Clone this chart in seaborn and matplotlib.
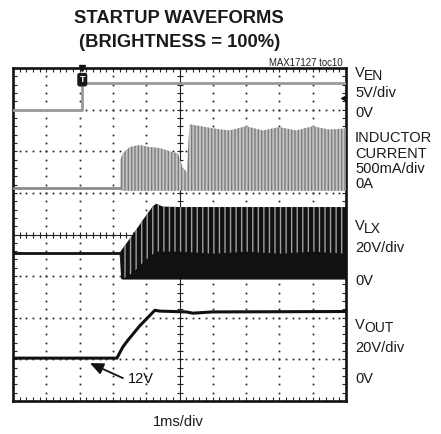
import numpy as np
import pandas as pd
import matplotlib
matplotlib.use("Agg")
import matplotlib.pyplot as plt
from matplotlib import font_manager
import seaborn as sns

#---------Trace data (x in ms / divisions, y in screen divisions 0..8)-----------
# V_EN
t_en = [0.0, 2.08, 2.08, 10.0]
v_en = [6.98, 6.98, 7.64, 7.64]

# inductor current: flat part, then switching envelope
t_il = [0.0, 3.22]
v_il = [5.12, 5.12]
t_il_band = [3.22, 3.3, 3.5, 3.8, 4.1, 4.4, 4.7, 4.95, 5.1, 5.22, 5.3, 5.5, 6.0, 6.5, 7.0, 7.5, 8.0, 8.5, 9.0, 9.5, 10.0]
il_hi = [5.8, 5.95, 6.1, 6.15, 6.1, 6.08, 6.0, 5.95, 5.6, 5.5, 6.65, 6.62, 6.55, 6.5, 6.6, 6.5, 6.58, 6.5, 6.6, 6.52, 6.55]
il_lo = [5.08, 5.05, 5.05, 5.05, 5.05, 5.05, 5.05, 5.05, 5.05, 5.05, 5.05, 5.05, 5.05, 5.05, 5.05, 5.05, 5.05, 5.05, 5.05, 5.05, 5.05]

# V_LX: flat part, then switching envelope
t_lx = [0.0, 3.2]
v_lx = [3.55, 3.55]
t_lx_band = [3.2, 3.25, 3.6, 3.9, 4.2, 4.3, 4.5, 5.0, 6.0, 7.0, 8.0, 9.0, 10.0]
lx_hi = [3.55, 3.62, 4.0, 4.35, 4.68, 4.74, 4.67, 4.66, 4.66, 4.66, 4.66, 4.66, 4.66]
lx_lo = [3.55, 2.93, 2.93, 2.93, 2.93, 2.93, 2.93, 2.93, 2.93, 2.93, 2.93, 2.93, 2.93]
lx_core = [3.55, 2.93, 3.1, 3.35, 3.55, 3.6, 3.6, 3.6, 3.55, 3.6, 3.55, 3.6, 3.55]

# V_OUT
t_out = [0.0, 3.12, 3.3, 3.45, 3.8, 4.26, 4.4, 5.2, 5.4, 6.0, 10.0]
v_out = [1.03, 1.03, 1.3, 1.46, 1.8, 2.18, 2.16, 2.14, 2.11, 2.14, 2.15]

# right-hand channel labels: (text, baseline pixel y, subscript)
labels = [("V", 77, "EN"), ("5V/div", 97, ""), ("0V", 117, ""),
          ("INDUCTOR", 142, ""), ("CURRENT", 158, ""), ("500mA/div", 173, ""), ("0A", 188, ""),
          ("V", 230, "LX"), ("20V/div", 252, ""), ("0V", 285, ""),
          ("V", 329, "OUT"), ("20V/div", 352, ""), ("0V", 383, "")]

W, H = 441, 434

sns.set_style("white")
installed = {f.name for f in font_manager.fontManager.ttflist}
plt.rcParams["font.family"] = ["Liberation Sans", "DejaVu Sans"]
plt.rcParams["hatch.linewidth"] = 1.0

fig = plt.figure(figsize=(W / 100, H / 100), dpi=100)
ax = fig.add_axes([13 / W, 1 - 401 / H, 333 / W, 333 / H])
ax.set_xlim(0, 10)
ax.set_ylim(0, 8)

#---------Graticule-----------
dot = dict(linestyle="none", marker="s", markersize=1.25, mew=0, color="#222222", zorder=1)
ys = np.arange(0, 8.01, 0.2)
xs = np.arange(0, 10.01, 0.2)
for gx in range(1, 10):
    if gx != 5:
        ax.plot([gx] * len(ys), ys, **dot)
for gy in range(1, 8):
    if gy != 4:
        ax.plot(xs, [gy] * len(xs), **dot)
ax.axvline(5, color="#222222", lw=0.8, zorder=1)
ax.axhline(4, color="#222222", lw=0.8, zorder=1)
ax.plot([5] * len(ys), ys, linestyle="none", marker="_", markersize=5, mew=0.8, color="#222222", zorder=1)
ax.plot(xs, [4] * len(xs), linestyle="none", marker="|", markersize=5, mew=0.8, color="#222222", zorder=1)

ax.set_xticks(xs)
ax.set_yticks(ys)
ax.tick_params(direction="in", top=True, right=True, bottom=True, left=True,
               length=3, width=0.8, color="#222222",
               labelbottom=False, labelleft=False)
for s in ax.spines.values():
    s.set_linewidth(1.9)
    s.set_color("#111111")

#---------Traces-----------
ax.fill_between(t_il_band, il_lo, il_hi, facecolor="#c4c4c4", edgecolor="#7c7c7c",
                hatch="|||||", linewidth=0, zorder=3)
sns.lineplot(x=t_il, y=v_il, ax=ax, color="#8c8c8c", lw=2.0, sort=False, estimator=None, zorder=4)

ax.fill_between(t_lx_band, lx_lo, lx_hi, facecolor="#111111", edgecolor="#a0a0a0",
                hatch="|||", linewidth=0, zorder=3)
ax.fill_between(t_lx_band, lx_lo, lx_core, facecolor="#111111", linewidth=0, zorder=3)
sns.lineplot(x=t_lx, y=v_lx, ax=ax, color="#111111", lw=2.0, sort=False, estimator=None, zorder=4)

sns.lineplot(x=t_en, y=v_en, ax=ax, color="#9a9a9a", lw=2.0, sort=False, estimator=None, zorder=4)
sns.lineplot(x=t_out, y=v_out, ax=ax, color="#111111", lw=2.2, sort=False, estimator=None, zorder=4)

# trigger marker and ground reference
ax.plot([2.08], [8.0], marker="v", markersize=4, color="#111111", clip_on=False, zorder=6)
ax.text(2.08, 7.72, "T", color="white", fontsize=6.5, fontweight="bold", ha="center", va="center",
        bbox=dict(boxstyle="round,pad=0.25", facecolor="#1a1a1a", edgecolor="none"), zorder=6)
ax.plot([9.93], [7.28], marker="<", markersize=4, color="#111111", zorder=6)

# 12V annotation
ax.annotate("", xy=(2.31, 0.91), xytext=(3.3, 0.55),
            arrowprops=dict(arrowstyle="-|>,head_length=0.8,head_width=0.35", color="#111111", lw=1.3,
                            shrinkA=0, shrinkB=0),
            zorder=6)
ax.text(3.45, 0.52, "12V", fontsize=10.5, ha="left", va="center", color="#111111")

#---------Text-----------
if "Liberation Sans Narrow" in installed:
    tfam, tsize = ["Liberation Sans Narrow", "Liberation Sans"], 14.4
else:
    tfam, tsize = ["Liberation Sans", "DejaVu Sans"], 13.2
fig.text(178.5 / W, 1 - 23 / H, "STARTUP WAVEFORMS", family=tfam, fontsize=tsize,
         fontweight="bold", ha="center", va="baseline", color="#1a1a1a")
fig.text(179.5 / W, 1 - 47 / H, "(BRIGHTNESS = 100%)", family=tfam, fontsize=tsize,
         fontweight="bold", ha="center", va="baseline", color="#1a1a1a")
fig.text(343 / W, 1 - 66 / H, "MAX17127 toc10", fontsize=6.9, ha="right", va="baseline", color="#222222")
fig.text(178.5 / W, 1 - 426 / H, "1ms/div", fontsize=10.5, ha="center", va="baseline", color="#1a1a1a")

for txt, base, sub in labels:
    fig.text(355 / W, 1 - base / H, txt, fontsize=10.5, ha="left", va="baseline", color="#1a1a1a")
    if sub:
        fig.text(364 / W, 1 - (base + 3) / H, sub, fontsize=10, ha="left", va="baseline", color="#1a1a1a")

fig.savefig("out.png", dpi=100)
